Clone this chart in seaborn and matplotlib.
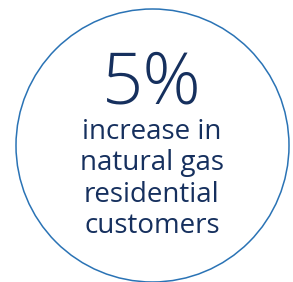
import matplotlib
matplotlib.use("Agg")
import matplotlib.pyplot as plt
from matplotlib.patches import Circle
import seaborn as sns

# stat shown in the badge
big_value = "5%"
caption_lines = ["increase in", "natural gas", "residential", "customers"]

# ring geometry (pixel space of the 293x282 image)
ring_center = (152.5, 145.5)
ring_radius = 136.5

navy = "#16305e"
ring_blue = "#2a73b5"

sns.set_theme(style="white")
plt.rcParams["font.family"] = ["Open Sans", "DejaVu Sans"]

fig = plt.figure(figsize=(2.93, 2.82), dpi=100)
ax = fig.add_axes([0, 0, 1, 1])
ax.set_xlim(0, 293)
ax.set_ylim(282, 0)
ax.set_axis_off()

ax.add_patch(Circle(ring_center, ring_radius, fill=False, edgecolor=ring_blue, linewidth=1.1))

# big number
ax.text(152, 103, big_value, ha="center", va="baseline", fontsize=52,
        fontweight="light", color=navy)

# caption, one line at a time
baselines = [139, 170, 202, 233]
for line, y in zip(caption_lines, baselines):
    ax.text(152, y, line, ha="center", va="baseline", fontsize=20,
            fontweight="normal", color=navy)

fig.savefig("out.png", dpi=100, facecolor="white")
